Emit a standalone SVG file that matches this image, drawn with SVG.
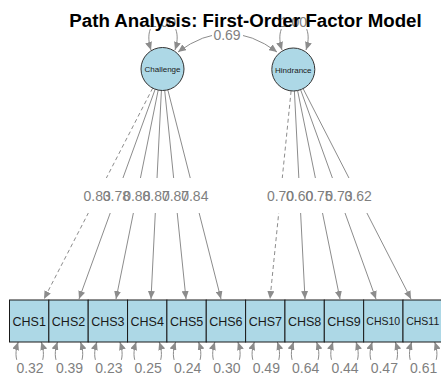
<svg xmlns="http://www.w3.org/2000/svg" width="441" height="374" viewBox="0 0 441 374">
<style>
.e{stroke:#8c8c8c;stroke-width:1;fill:none}
.d{stroke-dasharray:4,3}
.lb{font-family:"Liberation Sans",Arial,sans-serif;font-size:14px;fill:#7f7f7f;text-anchor:middle}
.bg{fill:#ffffff}
.box{fill:#ADD8E6;stroke:#1a1a1a;stroke-width:1}
.bt{font-family:"Liberation Sans",Arial,sans-serif;font-size:12.5px;fill:#1a1a1a;text-anchor:middle}
.bs{font-size:10.5px}
.lat{fill:#ADD8E6;stroke:#333333;stroke-width:1}
.lt{font-family:"Liberation Sans",Arial,sans-serif;font-size:8px;fill:#1a1a1a;text-anchor:middle}
</style>
<defs>
<marker id="ah" markerUnits="userSpaceOnUse" markerWidth="9" markerHeight="7" refX="8" refY="3.5" orient="auto-start-reverse">
<path d="M0,0 L8,3.5 L0,7 z" fill="#8c8c8c"/>
</marker>
</defs>
<rect width="441" height="374" fill="#ffffff"/>
<g id="connectors">
<path class="e d" d="M152.7,88.1 L44,299" marker-end="url(#ah)"/>
<path class="e" d="M155.2,89.2 L79,299" marker-end="url(#ah)"/>
<path class="e" d="M158.2,90.1 L116,299" marker-end="url(#ah)"/>
<path class="e" d="M161.4,90.5 L151,299" marker-end="url(#ah)"/>
<path class="e" d="M164.7,90.4 L186,299" marker-end="url(#ah)"/>
<path class="e" d="M167.8,89.8 L221,299" marker-end="url(#ah)"/>
<path class="e d" d="M291.1,90.9 L270,299" marker-end="url(#ah)"/>
<path class="e" d="M294.4,91 L305,299" marker-end="url(#ah)"/>
<path class="e" d="M297.6,90.6 L340,299" marker-end="url(#ah)"/>
<path class="e" d="M300.6,89.7 L376,299" marker-end="url(#ah)"/>
<path class="e" d="M303.1,88.6 L411,299" marker-end="url(#ah)"/>
<path class="e" d="M178,52 Q227.5,15 277,52" marker-start="url(#ah)" marker-end="url(#ah)"/>
<path class="e" d="M151,50 C138,10 188,10 175,50" marker-start="url(#ah)" marker-end="url(#ah)"/>
<path class="e" d="M282,50 C269,10 319,10 306,50" marker-start="url(#ah)" marker-end="url(#ah)"/>
<g id="resid-loops">
<path class="e" d="M18.2,342 C5.2,380 54.2,380 41.2,342" marker-start="url(#ah)" marker-end="url(#ah)"/>
<path class="e" d="M57.5,342 C44.5,380 93.5,380 80.5,342" marker-start="url(#ah)" marker-end="url(#ah)"/>
<path class="e" d="M96.9,342 C83.9,380 132.9,380 119.9,342" marker-start="url(#ah)" marker-end="url(#ah)"/>
<path class="e" d="M136.2,342 C123.2,380 172.2,380 159.2,342" marker-start="url(#ah)" marker-end="url(#ah)"/>
<path class="e" d="M175.6,342 C162.6,380 211.6,380 198.6,342" marker-start="url(#ah)" marker-end="url(#ah)"/>
<path class="e" d="M214.9,342 C201.9,380 250.9,380 237.9,342" marker-start="url(#ah)" marker-end="url(#ah)"/>
<path class="e" d="M254.3,342 C241.3,380 290.3,380 277.3,342" marker-start="url(#ah)" marker-end="url(#ah)"/>
<path class="e" d="M293.6,342 C280.6,380 329.6,380 316.6,342" marker-start="url(#ah)" marker-end="url(#ah)"/>
<path class="e" d="M333,342 C320,380 369,380 356,342" marker-start="url(#ah)" marker-end="url(#ah)"/>
<path class="e" d="M372.3,342 C359.3,380 408.3,380 395.3,342" marker-start="url(#ah)" marker-end="url(#ah)"/>
<path class="e" d="M411.7,342 C398.7,380 447.7,380 434.7,342" marker-start="url(#ah)" marker-end="url(#ah)"/>
</g>
<g id="label-bg">
<rect class="bg" x="81" y="178" width="32" height="35"/>
<rect class="bg" x="100.4" y="178" width="32" height="35"/>
<rect class="bg" x="120.8" y="178" width="32" height="35"/>
<rect class="bg" x="140.2" y="178" width="32" height="35"/>
<rect class="bg" x="159.5" y="178" width="32" height="35"/>
<rect class="bg" x="178.8" y="178" width="32" height="35"/>
<rect class="bg" x="264.5" y="178" width="32" height="35"/>
<rect class="bg" x="283.7" y="178" width="32" height="35"/>
<rect class="bg" x="303" y="178" width="32" height="35"/>
<rect class="bg" x="322.9" y="178" width="32" height="35"/>
<rect class="bg" x="342.2" y="178" width="32" height="35"/>
<rect class="bg" x="212" y="26" width="31" height="18"/>
<rect class="bg" x="147" y="13" width="31" height="16"/>
<rect class="bg" x="278" y="13" width="31" height="16"/>
<rect class="bg" x="14" y="360" width="31" height="14"/>
<rect class="bg" x="53" y="360" width="31" height="14"/>
<rect class="bg" x="92.4" y="360" width="31" height="14"/>
<rect class="bg" x="131.7" y="360" width="31" height="14"/>
<rect class="bg" x="171.1" y="360" width="31" height="14"/>
<rect class="bg" x="210.4" y="360" width="31" height="14"/>
<rect class="bg" x="249.8" y="360" width="31" height="14"/>
<rect class="bg" x="289.1" y="360" width="31" height="14"/>
<rect class="bg" x="328.5" y="360" width="31" height="14"/>
<rect class="bg" x="367.8" y="360" width="31" height="14"/>
<rect class="bg" x="407.2" y="360" width="31" height="14"/>
</g>
<g id="edge-labels">
<text class="lb" x="97.1" y="201">0.83</text>
<text class="lb" x="116.4" y="201">0.78</text>
<text class="lb" x="136.8" y="201">0.88</text>
<text class="lb" x="156.2" y="201">0.87</text>
<text class="lb" x="175.5" y="201">0.87</text>
<text class="lb" x="194.8" y="201">0.84</text>
<text class="lb" x="280.5" y="201">0.70</text>
<text class="lb" x="299.7" y="201">0.60</text>
<text class="lb" x="319" y="201">0.75</text>
<text class="lb" x="338.9" y="201">0.73</text>
<text class="lb" x="358.2" y="201">0.62</text>
<text class="lb" x="227" y="40">0.69</text>
<text class="lb" x="162.5" y="27">1.00</text>
<text class="lb" x="293.5" y="27">1.00</text>
<text class="lb" x="30" y="372.5">0.32</text>
<text class="lb" x="69.5" y="372.5">0.39</text>
<text class="lb" x="108.9" y="372.5">0.23</text>
<text class="lb" x="148.2" y="372.5">0.25</text>
<text class="lb" x="187.6" y="372.5">0.24</text>
<text class="lb" x="226.9" y="372.5">0.30</text>
<text class="lb" x="266.3" y="372.5">0.49</text>
<text class="lb" x="305.6" y="372.5">0.64</text>
<text class="lb" x="345" y="372.5">0.44</text>
<text class="lb" x="384.3" y="372.5">0.47</text>
<text class="lb" x="423.7" y="372.5">0.61</text>
</g>
</g>
<g id="Challenge"><circle class="lat" cx="162.5" cy="69" r="21.5"/><text class="lt" x="162.5" y="72">Challenge</text></g>
<g id="Hindrance"><circle class="lat" cx="293.3" cy="69.5" r="21.5"/><text class="lt" x="293.3" y="72.5">Hindrance</text></g>
<g id="CHS1"><rect class="box" x="9.5" y="300" width="39.35" height="42"/><text class="bt" x="29.2" y="325.5">CHS1</text></g>
<g id="CHS2"><rect class="box" x="48.85" y="300" width="39.35" height="42"/><text class="bt" x="68.5" y="325.5">CHS2</text></g>
<g id="CHS3"><rect class="box" x="88.2" y="300" width="39.35" height="42"/><text class="bt" x="107.9" y="325.5">CHS3</text></g>
<g id="CHS4"><rect class="box" x="127.55" y="300" width="39.35" height="42"/><text class="bt" x="147.2" y="325.5">CHS4</text></g>
<g id="CHS5"><rect class="box" x="166.9" y="300" width="39.35" height="42"/><text class="bt" x="186.6" y="325.5">CHS5</text></g>
<g id="CHS6"><rect class="box" x="206.25" y="300" width="39.35" height="42"/><text class="bt" x="225.9" y="325.5">CHS6</text></g>
<g id="CHS7"><rect class="box" x="245.6" y="300" width="39.35" height="42"/><text class="bt" x="265.3" y="325.5">CHS7</text></g>
<g id="CHS8"><rect class="box" x="284.95" y="300" width="39.35" height="42"/><text class="bt" x="304.6" y="325.5">CHS8</text></g>
<g id="CHS9"><rect class="box" x="324.3" y="300" width="39.35" height="42"/><text class="bt" x="344" y="325.5">CHS9</text></g>
<g id="CHS10"><rect class="box" x="363.65" y="300" width="39.35" height="42"/><text class="bt bs" x="383.3" y="325">CHS10</text></g>
<g id="CHS11"><rect class="box" x="403" y="300" width="39.35" height="42"/><text class="bt bs" x="422.7" y="325">CHS11</text></g>
<text id="title" x="245.5" y="26.5" font-family="'Liberation Sans',Arial,sans-serif" font-size="18.7" font-weight="bold" fill="#000000" text-anchor="middle">Path Analysis: First-Order Factor Model</text>
</svg>
